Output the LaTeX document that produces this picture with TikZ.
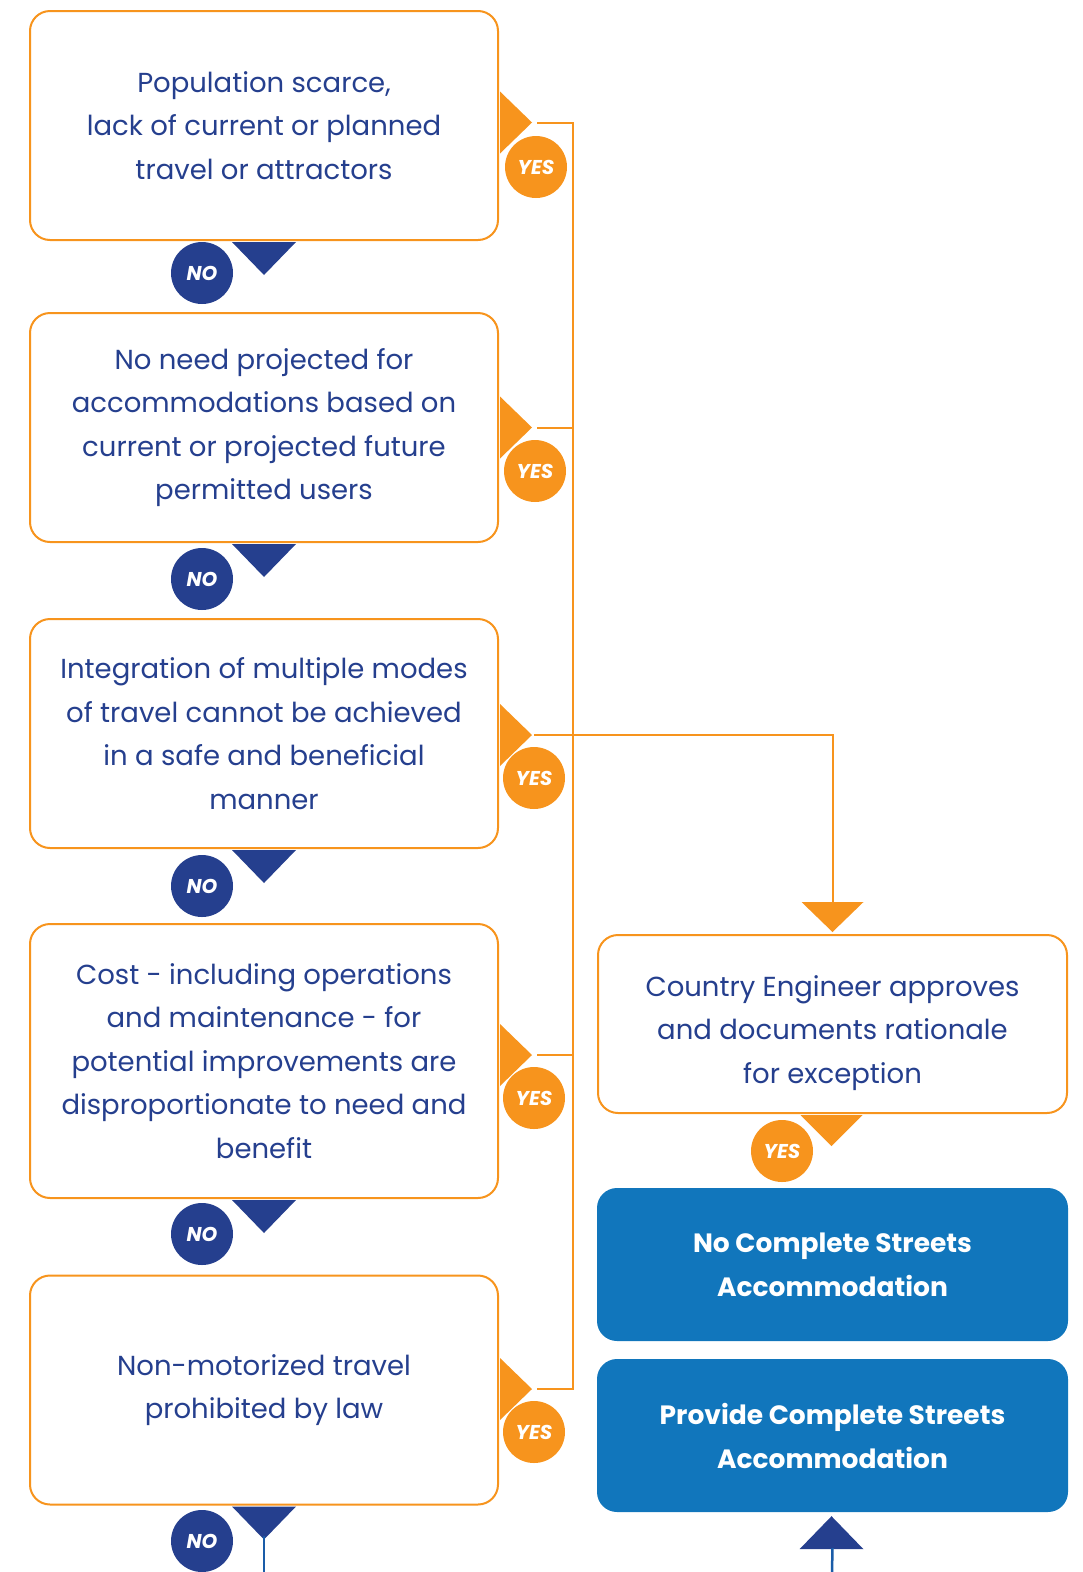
\documentclass[tikz,border=0pt]{standalone}
\usepackage{fontspec}
\setmainfont{Poppins}
\usetikzlibrary{calc}
\definecolor{orng}{HTML}{F7941D}
\definecolor{dblue}{HTML}{253F8E}
\definecolor{mblue}{HTML}{1176BC}
\definecolor{lblue}{HTML}{1A5CA8}
\begin{document}
\begin{tikzpicture}[x=1pt,y=-1pt,
  qbox/.style={draw=orng, line width=2pt, rounded corners=20pt, fill=white,
    minimum width=468pt, minimum height=229pt, align=center, text=dblue,
    font=\fontsize{27.5}{43.5}\selectfont, inner sep=0pt},
  abox/.style={fill=mblue, rounded corners=20pt, minimum width=471pt, minimum height=153pt,
    align=center, text=white, font=\fontsize{26.5}{44}\selectfont\bfseries, inner sep=0pt},
  yesc/.style={circle, fill=orng, minimum size=62pt, inner sep=0pt, text=white,
    font=\fontsize{20}{20}\selectfont\bfseries\itshape},
  noc/.style={circle, fill=dblue, minimum size=62pt, inner sep=0pt, text=white,
    font=\fontsize{20}{20}\selectfont\bfseries\itshape},
  oline/.style={draw=orng, line width=2pt},
  bline/.style={draw=lblue, line width=2.5pt}]
\useasboundingbox (0,0) rectangle (1082,1572);

% question boxes
\node[qbox] (b1) at (264,125.5) {Population scarce,\\lack of current or planned\\travel or attractors};
\node[qbox] (b2) at (264,427.5) {No need projected for\\accommodations based on\\current or projected future\\permitted users};
\node[qbox] (b3) at (264,733.5) {Integration of multiple modes\\of travel cannot be achieved\\in a safe and beneficial\\manner};
\node[qbox, minimum height=274pt] (b4) at (264,1061) {Cost - including operations\\and maintenance - for\\potential improvements are\\disproportionate to need and\\benefit};
\node[qbox] (b5) at (264,1390) {Non-motorized travel\\prohibited by law};

\node[qbox, minimum width=469pt, minimum height=178pt] (ce) at (832.5,1024) {};
\node[align=center, text=dblue, font=\fontsize{27.5}{43.5}\selectfont, inner sep=0pt] (cet) at ($(ce.center)+(0,9)$) {Country Engineer approves\\and documents rationale\\for exception};

\node[abox] (nc) at (832.5,1264.5) {No Complete Streets\\Accommodation};
\node[abox] (pc) at (832.5,1435.5) {Provide Complete Streets\\Accommodation};

% YES triangles
\foreach \b/\dy in {b1/-3, b2/0, b3/1.5, b4/-6, b5/-1} {
  \fill[orng] ($(\b.east)+(1,\dy-31)$) -- ++(32,31) -- ++(-32,31) -- cycle;
  \coordinate (t\b) at ($(\b.east)+(40,\dy)$);
}
% NO triangles
\foreach \b in {b1,b2,b3,b4,b5} {
  \fill[dblue] ($(\b.south)+(-32,1)$) -- ++(64,0) -- ++(-32,33) -- cycle;
}
% CE triangle
\fill[orng] ($(ce.south)+(-32,1)$) -- ++(62,0) -- ++(-31,31) -- cycle;
% arrow into CE
\fill[orng] ($(ce.north)+(0,-2)$) -- ++(-31,-30) -- ++(62,0) -- cycle;

% spine
\coordinate (sp) at (573,0);
\draw[oline] ($(tb1)+(-2,0)$) -- (tb1 -| sp) -- (tb5 -| sp) -- ($(tb5)+(-2,0)$);
\draw[oline] ($(tb2)+(-2,0)$) -- (tb2 -| sp);
\draw[oline] ($(tb4)+(-2,0)$) -- (tb4 -| sp);
\draw[oline] ($(tb3)+(-5,0)$) -- (tb3 -| ce.north) -- ($(ce.north)+(0,-31)$);

% YES circles
\node[yesc] (y1) at (536,167) {YES};
\node[yesc] (y2) at (535,471) {YES};
\node[yesc] (y3) at (534,778) {YES};
\node[yesc] (y4) at (534,1098) {YES};
\node[yesc] (y5) at (534,1432) {YES};
\node[yesc] (y6) at (782,1151) {YES};

% NO circles
\node[noc] (n1) at (202,273) {NO};
\node[noc] (n2) at (202,579) {NO};
\node[noc] (n3) at (202,886) {NO};
\node[noc] (n4) at (202,1234) {NO};
\node[noc] (n5) at (202,1541) {NO};

% bottom connectors
\coordinate (e1) at (264,1572);
\draw[bline] ($(b5.south)+(0,30)$) -- (e1);
\fill[dblue] ($(pc.south)+(-1,4)$) -- ++(32,33) -- ++(-64,0) -- cycle;
\coordinate (e2) at (832,1572);
\draw[bline] ($(pc.south)+(0,36)$) -- (e2);
\end{tikzpicture}
\end{document}
